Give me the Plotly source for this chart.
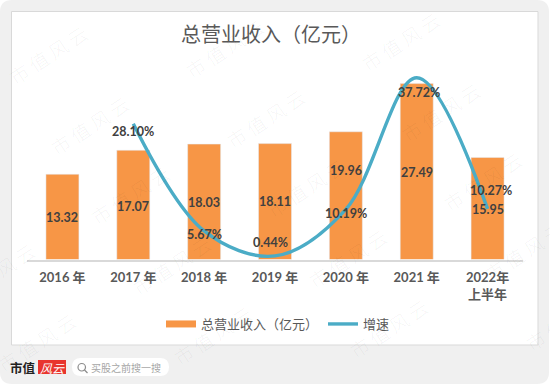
import plotly.graph_objects as go

categories = ["2016 年", "2017 年", "2018 年", "2019 年", "2020 年", "2021 年", "2022年<br>上半年"]
revenue = [13.32, 17.07, 18.03, 18.11, 19.96, 27.49, 15.95]
revenue_label_shift = [-1, -2, -1, 0, 25, -1, -1]
growth_categories = categories[1:]
growth = [28.10, 5.67, 0.44, 10.19, 37.72, 10.27]
growth_labels = ["28.10%", "5.67%", "0.44%", "10.19%", "37.72%", "10.27%"]
growth_label_shift = [-8, -4, 13, -4, -15, 18]
growth_label_xshift = [0, 0, -5, 0, 2, 3]

W, H = 550, 385
ORANGE = "#f79646"
BLUE = "#4bacc6"
FONT = "Lato, Noto Sans CJK SC, sans-serif"
CJK = "Noto Sans CJK SC, sans-serif"
px = lambda x: x / W
py = lambda y: 1 - y / H

fig = go.Figure()
fig.add_trace(go.Bar(
    x=categories, y=revenue, name="总营业收入（亿元）", marker=dict(color=ORANGE),
    width=0.665 * 0.7, showlegend=False,
))
fig.add_trace(go.Scatter(
    x=[None], y=[None], mode="lines", name="总营业收入（亿元）",
    line=dict(color=ORANGE, width=7),
))
fig.add_trace(go.Scatter(
    x=growth_categories, y=growth, yaxis="y2", mode="lines", name="增速",
    line=dict(color=BLUE, width=3.4, shape="spline", smoothing=1.0),
    cliponaxis=False,
))

shapes = [
    dict(type="path", xref="paper", yref="paper", layer="below", line_width=0, fillcolor="#f0f0f0",
         path=f"M {px(12)} {py(0)} L {px(537)} {py(0)} Q {px(549)} {py(0)} {px(549)} {py(12)} "
              f"L {px(549)} {py(372)} Q {px(549)} {py(384)} {px(537)} {py(384)} "
              f"L {px(12)} {py(384)} Q {px(0)} {py(384)} {px(0)} {py(372)} "
              f"L {px(0)} {py(12)} Q {px(0)} {py(0)} {px(12)} {py(0)} Z"),
    dict(type="rect", xref="paper", yref="paper", layer="below", x0=px(11.5), x1=px(538), y0=py(345), y1=py(11.5),
         fillcolor="white", line=dict(color="#d9d9d9", width=1)),
    dict(type="rect", xref="paper", yref="paper", layer="below", x0=px(38), x1=px(66), y0=py(374), y1=py(360),
         fillcolor="#e8352e", line_width=0),
    dict(type="path", xref="paper", yref="paper", layer="below", line_width=0, fillcolor="white",
         path=f"M {px(81)} {py(358)} L {px(160)} {py(358)} Q {px(169)} {py(358)} {px(169)} {py(367)} "
              f"Q {px(169)} {py(376)} {px(160)} {py(376)} L {px(81)} {py(376)} "
              f"Q {px(72)} {py(376)} {px(72)} {py(367)} Q {px(72)} {py(358)} {px(81)} {py(358)} Z"),
    dict(type="circle", xref="paper", yref="paper", x0=px(78), x1=px(85.5), y0=py(371), y1=py(363.5),
         line=dict(color="#8c8c8c", width=1.2), layer="below"),
    dict(type="line", xref="paper", yref="paper", x0=px(84.5), x1=px(87.5), y0=py(370), y1=py(373),
         line=dict(color="#8c8c8c", width=1.2), layer="below"),
]

LABEL_FONT = dict(family=FONT, size=12.5, color="#404040", weight="bold")
annotations = []
for i, (x, v) in enumerate(zip(categories, revenue)):
    annotations.append(dict(x=x, y=v / 2, xref="x", yref="y", text=f"{v:.2f}", showarrow=False,
                            xanchor="center", yanchor="middle",
                            yshift=revenue_label_shift[i], font=LABEL_FONT))
for i, (x, y, t) in enumerate(zip(growth_categories, growth, growth_labels)):
    annotations.append(dict(x=x, y=y, xref="x", yref="y2", text=t, showarrow=False,
                            xanchor="center", yanchor="middle",
                            yshift=growth_label_shift[i], xshift=growth_label_xshift[i], font=LABEL_FONT))
def page_text(x, y, text, **font):
    return dict(x=px(x), y=py(y), xref="paper", yref="paper", text=text, showarrow=False,
                xanchor="center", yanchor="middle", font=dict(family=CJK, **font))
annotations += [
    page_text(271, 33, "总营业收入（亿元）", size=20, color="#595959"),
    page_text(23, 367, "<b>市值</b>", size=12.5, color="#222222"),
    page_text(52, 367, "<i>风云</i>", size=12, color="white"),
    page_text(126, 367, "买股之前搜一搜", size=10, color="#a6a6a6"),
]
for i in range(-2, 5):
    for j in range(-2, 6):
        cx, cy = 48 + 176 * i + 41 * j, 55 - 7 * i + 70 * j
        if -20 < cx < 570 and -10 < cy < 395:
            annotations.append(dict(x=px(cx), y=py(cy), xref="paper", yref="paper", text="市 值 风 云",
                                    showarrow=False, textangle=-33, xanchor="center", yanchor="middle",
                                    font=dict(family=CJK, size=19, color="rgba(0,0,0,0.05)", weight=300)))

fig.update_layout(
    width=W, height=H, margin=dict(l=0, r=0, t=0, b=0), autosize=False,
    paper_bgcolor="white", plot_bgcolor="rgba(0,0,0,0)",
    shapes=shapes, annotations=annotations, bargap=0.33,
    xaxis=dict(domain=[px(27), px(523)], showgrid=False, showline=True, linecolor="#d9d9d9", linewidth=1.5,
               ticks="", tickangle=0, anchor="y", categoryorder="array", categoryarray=categories,
               ticklabelstandoff=5,
               tickfont=dict(family=FONT, size=13, color="#595959", weight="bold")),
    yaxis=dict(domain=[py(259.5), py(40)], range=[0, 34.3], visible=False, fixedrange=True),
    yaxis2=dict(domain=[py(259.5), py(40)], range=[-0.31, 45.6], overlaying="y", side="right", visible=False),
    legend=dict(orientation="h", x=px(278), xanchor="center", y=py(324), yanchor="middle",
                bgcolor="rgba(0,0,0,0)", itemwidth=30, traceorder="normal",
                font=dict(family=CJK, size=13, color="#595959")),
)
fig.write_html("out.html", config=dict(displayModeBar=False),
               post_script="document.body.style.margin='0';document.body.style.overflow='hidden';")
